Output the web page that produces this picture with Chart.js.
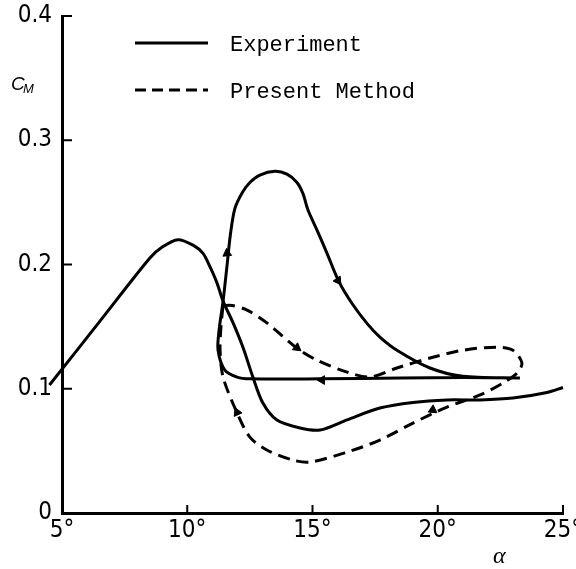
<!DOCTYPE html>
<html><head><meta charset="utf-8">
<script src="https://cdn.jsdelivr.net/npm/chart.js@4.4.1/dist/chart.umd.min.js"></script>
<style>html,body{margin:0;padding:0;background:#fff;}</style>
</head><body>
<canvas id="c" width="576" height="569"></canvas>
<script>
// Experiment, main curve (alpha in degrees, C_M)
const expMainAlpha = [4.5, 6.5, 8.5, 9.0, 9.63, 10.23, 10.63, 10.91, 11.19, 11.43, 11.83, 12.23, 12.62, 13.02, 13.58, 14.5, 15.3, 16.38, 17.69, 19.01, 20.37, 21.69, 23.0, 24.36, 25.0];
const expMainCm    = [0.103, 0.154, 0.205, 0.214, 0.220, 0.2156, 0.209, 0.198, 0.185, 0.1705, 0.153, 0.133, 0.1094, 0.0885, 0.0748, 0.0684, 0.0668, 0.075, 0.0845, 0.089, 0.091, 0.091, 0.0925, 0.097, 0.101];
// Experiment, hysteresis loop
const expLoopAlpha = [23.28, 21.0, 18.5, 15.3, 12.5, 11.99, 11.5, 11.23, 11.27, 11.43, 11.59, 11.72, 11.9, 12.2, 12.5, 12.9, 13.5, 13.98, 14.38, 14.62, 14.82, 15.18, 15.58, 16.06, 16.6, 17.2, 17.69, 18.37, 19.69, 21.0, 23.28];
const expLoopCm    = [0.1086, 0.109, 0.1086, 0.108, 0.108, 0.1094, 0.115, 0.131, 0.147, 0.1705, 0.1995, 0.2237, 0.245, 0.258, 0.266, 0.272, 0.275, 0.2727, 0.266, 0.257, 0.2438, 0.2277, 0.209, 0.186, 0.168, 0.152, 0.1416, 0.131, 0.1167, 0.110, 0.1086];
// Present Method loop
const predAlpha = [11.43, 11.79, 12.39, 13.18, 14.38, 15.18, 16.38, 17.3, 18.37, 19.69, 21.0, 22.37, 23.0, 23.36, 23.16, 22.6, 21.69, 20.37, 19.01, 17.69, 16.38, 14.9, 14.22, 13.18, 12.5, 11.99, 11.43, 11.31, 11.35, 11.43];
const predCm    = [0.167, 0.167, 0.1633, 0.153, 0.1327, 0.123, 0.1134, 0.1094, 0.1167, 0.1247, 0.131, 0.1335, 0.131, 0.1207, 0.1126, 0.1046, 0.095, 0.0853, 0.0724, 0.0587, 0.049, 0.041, 0.0426, 0.0507, 0.0611, 0.0805, 0.1094, 0.131, 0.151, 0.167];
// Direction arrows on the curves
const arrowAlpha = [11.59, 16.02, 15.38, 14.38, 19.8, 11.99];
const arrowCm    = [0.209, 0.187, 0.107, 0.133, 0.083, 0.081];
const arrowAngle = [-5, 145, 270, 127, 244, -24];
// Axis ticks
const xTicks = [5, 10, 15, 20, 25];
const yTicks = [0, 0.1, 0.2, 0.3, 0.4];
const legendLabels = ['Experiment', 'Present Method'];

const pts = (a, c) => a.map((v, i) => ({x: v, y: c[i]}));
const tickFont = {family: "'Liberation Sans Narrow','DejaVu Sans Condensed','Liberation Sans',sans-serif", size: 24};

const decor = {
  id: 'decor',
  afterDraw(chart) {
    const ctx = chart.ctx, xs = chart.scales.x, ys = chart.scales.y, ca = chart.chartArea;
    ctx.save();
    ctx.strokeStyle = '#000';
    ctx.lineWidth = 2;
    yTicks.forEach(v => { if (v === 0) return; const p = ys.getPixelForValue(v); ctx.beginPath(); ctx.moveTo(ca.left, p); ctx.lineTo(ca.left + 10, p); ctx.stroke(); });
    xTicks.forEach(v => { if (v === 5) return; const p = xs.getPixelForValue(v); ctx.beginPath(); ctx.moveTo(p, ca.bottom); ctx.lineTo(p, ca.bottom - 8); ctx.stroke(); });
    // legend
    ctx.lineWidth = 3;
    ctx.beginPath(); ctx.moveTo(135, 43); ctx.lineTo(208, 43); ctx.stroke();
    ctx.setLineDash([11, 6]);
    ctx.beginPath(); ctx.moveTo(135, 90); ctx.lineTo(208, 90); ctx.stroke();
    ctx.setLineDash([]);
    ctx.fillStyle = '#000';
    ctx.font = "22px 'Liberation Mono','DejaVu Sans Mono',monospace";
    ctx.textBaseline = 'middle';
    ctx.fillText(legendLabels[0], 230, 45);
    ctx.fillText(legendLabels[1], 230, 92);
    // axis titles
    ctx.textBaseline = 'alphabetic';
    ctx.font = "italic 19px 'Liberation Sans','DejaVu Sans',sans-serif";
    ctx.fillText('C', 11, 90);
    ctx.font = "italic 13px 'Liberation Sans','DejaVu Sans',sans-serif";
    ctx.fillText('M', 23, 93);
    ctx.font = "italic 24px 'Liberation Serif','DejaVu Serif',serif";
    ctx.fillText('α', 493, 563);
    ctx.restore();
  }
};

new Chart(document.getElementById('c'), {
  type: 'line',
  data: {
    datasets: [
      {label: 'Experiment', data: pts(expMainAlpha, expMainCm), borderColor: '#000', borderWidth: 3, pointRadius: 0, tension: 0.3, fill: false, clip: false},
      {label: 'Experiment loop', data: pts(expLoopAlpha, expLoopCm), borderColor: '#000', borderWidth: 3, pointRadius: 0, tension: 0.3, fill: false},
      {label: 'Present Method', data: pts(predAlpha, predCm), borderColor: '#000', borderWidth: 3, borderDash: [12, 7], pointRadius: 0, tension: 0.3, fill: false},
      {label: 'arrows', data: pts(arrowAlpha, arrowCm), showLine: false, pointStyle: 'triangle', pointRadius: 5, pointRotation: arrowAngle, backgroundColor: '#000', borderColor: '#000', borderWidth: 1}
    ]
  },
  options: {
    responsive: false,
    animation: false,
    layout: {padding: {top: 16, right: 13, left: 0, bottom: 0}},
    plugins: {legend: {display: false}, tooltip: {enabled: false}},
    scales: {
      x: {
        type: 'linear', min: 5, max: 25,
        afterFit(s) { s.height = 56; s.paddingLeft = 0; s.paddingRight = 0; },
        afterBuildTicks(s) { s.ticks = xTicks.map(v => ({value: v})); },
        border: {display: true, width: 3, color: '#000'},
        grid: {display: false, drawTicks: false},
        ticks: {color: '#000', padding: 3, font: tickFont, callback: v => v + '°'}
      },
      y: {
        type: 'linear', min: 0, max: 0.4,
        afterFit(s) { s.width = 62; s.paddingTop = 0; s.paddingBottom = 0; },
        afterBuildTicks(s) { s.ticks = yTicks.map(v => ({value: v})); },
        border: {display: true, width: 3, color: '#000'},
        grid: {display: false, drawTicks: false},
        ticks: {color: '#000', padding: 10, font: tickFont, callback: v => v === 0 ? '0' : v.toFixed(1)}
      }
    }
  },
  plugins: [decor]
});
</script>
</body></html>
